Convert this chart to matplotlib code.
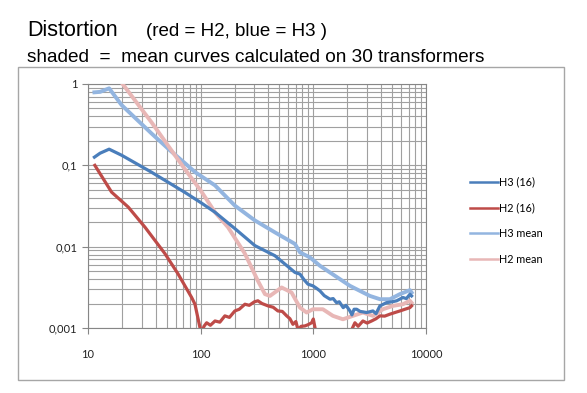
import matplotlib
matplotlib.use("Agg")
import matplotlib.pyplot as plt
from matplotlib.patches import Rectangle
from matplotlib.ticker import LogLocator, NullFormatter

# ---------------- data ---------------- #
h3_mean_f = [11.4, 12.8, 15.4, 19.9, 36.8, 53.4, 72.6, 89, 134, 201, 303, 456, 687,
             761, 933, 1145, 1404, 1722, 2113, 2591, 3178, 3900, 4786, 5869, 7197, 7450]
h3_mean_v = [0.79, 0.80, 0.885, 0.55, 0.245, 0.153, 0.106, 0.0827, 0.0567, 0.032, 0.021,
             0.0150, 0.0108, 0.0085, 0.00738, 0.00582, 0.00482, 0.00399, 0.0033, 0.00286,
             0.00248, 0.00226, 0.00226, 0.00261, 0.00292, 0.00273]

h2_mean_f = [20.3, 36.8, 53.4, 72.6, 100, 134, 175, 247, 322, 372, 412, 523, 641, 761,
             872, 991, 1216, 1493, 1831, 2245, 2754, 3380, 4145, 5082, 6237, 7197, 7450]
h2_mean_v = [1.0, 0.335, 0.162, 0.0893, 0.0491, 0.0265, 0.0173, 0.0082, 0.0038, 0.00261,
             0.00248, 0.00315, 0.00273, 0.00178, 0.00155, 0.0017, 0.0017, 0.00141, 0.00128,
             0.00141, 0.00155, 0.00141, 0.0017, 0.00187, 0.00196, 0.00216, 0.00204]

h3_16_f = [11.4, 12.8, 15.4, 19.9, 36.8, 53.4, 72.6, 100, 134, 201, 303, 456, 687, 761,
           830, 896, 991, 1060, 1145, 1250, 1404, 1500, 1605, 1700, 1842, 1950, 2113,
           2200, 2300, 2425, 2600, 2970, 3380, 3600, 3900, 4460, 5000, 5490, 6240, 6700,
           7197, 7450]
h3_16_v = [0.126, 0.141, 0.158, 0.133, 0.082, 0.060, 0.0464, 0.0349, 0.0265, 0.0167,
           0.0103, 0.00774, 0.00482, 0.0046, 0.0039, 0.00346, 0.0033, 0.0031, 0.00286,
           0.0025, 0.00226, 0.0023, 0.00205, 0.0021, 0.00178, 0.0019, 0.00162, 0.00145,
           0.0017, 0.0017, 0.0016, 0.00155, 0.00162, 0.0015, 0.00187, 0.00205, 0.0021,
           0.00216, 0.00237, 0.0023, 0.0026, 0.00248]

h2_16_f = [11.5, 16.2, 22.8, 32.1, 48.2, 62.9, 83.2, 89, 98.6, 102, 107, 113, 122, 134,
           148, 164, 180, 201, 220, 247, 270, 300, 322, 350, 396, 440, 485, 530, 580,
           620, 659, 700, 730, 780, 841, 900, 966, 1000, 1054, 1404, 1905, 2339, 2500,
           2754, 3000, 3290, 3600, 3900, 4300, 4786, 5300, 5869, 6500, 7197, 7450]
h2_16_v = [0.1, 0.0468, 0.0306, 0.0173, 0.0082, 0.00464, 0.00237, 0.00196, 0.00101,
           0.00087, 0.00105, 0.00116, 0.00108, 0.00122, 0.00118, 0.00141, 0.00135,
           0.00162, 0.0017, 0.00196, 0.0019, 0.0021, 0.00216, 0.0020, 0.00187, 0.0018,
           0.00162, 0.0016, 0.00141, 0.0013, 0.00111, 0.0012, 0.00096, 0.00105, 0.00106,
           0.0011, 0.00116, 0.00129, 0.00088, 0.00063, 0.00063, 0.00116, 0.00105, 0.00122,
           0.00115, 0.00122, 0.0013, 0.00141, 0.0014, 0.00148, 0.00155, 0.00162, 0.0017,
           0.00178, 0.00187]

y_ticks = [0.001, 0.01, 0.1, 1]
y_labels = ["0,001", "0,01", "0,1", "1"]
x_ticks = [10, 100, 1000, 10000]
x_labels = ["10", "100", "1000", "10000"]

# ---------------- figure ---------------- #
fig = plt.figure(figsize=(5.87, 3.93), dpi=100)
ax = fig.add_axes([88 / 587, 1 - 328 / 393, (426 - 88) / 587, (328 - 84) / 393])

# chart border
fig.patches.append(Rectangle((18 / 587, 1 - 380 / 393), 546 / 587, 313 / 393,
                             transform=fig.transFigure, fill=False,
                             edgecolor="#a6a6a6", lw=1.0))

ax.plot(h3_16_f, h3_16_v, color="#4A7EBB", lw=2.3, label="H3 (16)", zorder=4)
ax.plot(h2_16_f, h2_16_v, color="#BE4B48", lw=2.3, label="H2 (16)", zorder=4)
ax.plot(h3_mean_f, h3_mean_v, color="#93B5E0", lw=2.8, label="H3 mean", zorder=3)
ax.plot(h2_mean_f, h2_mean_v, color="#E8B7B6", lw=2.8, label="H2 mean", zorder=3)

ax.set_xscale("log")
ax.set_yscale("log")
ax.set_xlim(10, 10000)
ax.set_ylim(0.001, 1)

ax.xaxis.set_minor_locator(LogLocator(base=10, subs=range(2, 10)))
ax.yaxis.set_minor_locator(LogLocator(base=10, subs=range(2, 10)))
ax.xaxis.set_minor_formatter(NullFormatter())
ax.yaxis.set_minor_formatter(NullFormatter())
ax.set_xticks(x_ticks)
ax.set_xticklabels(x_labels)
ax.set_yticks(y_ticks)
ax.set_yticklabels(y_labels)

ax.grid(True, which="both", color="#a0a0a0", lw=0.8)
ax.set_axisbelow(True)
ax.tick_params(which="minor", length=0)
ax.tick_params(which="major", length=4, color="#868686", labelsize=8,
               labelcolor="#222222")
ax.tick_params(axis="x", pad=11)
for lab in ax.get_xticklabels() + ax.get_yticklabels():
    lab.set_fontfamily("Lato")
for side in ["left", "bottom", "top", "right"]:
    ax.spines[side].set_color("#868686")
    ax.spines[side].set_linewidth(0.8)

leg = ax.legend(loc="center left", bbox_to_anchor=(1.1, 0.44), frameon=False,
                handlelength=2.6, handletextpad=0.15, labelspacing=1.35,
                prop={"family": "Lato", "size": 7.8})
for line in leg.get_lines():
    line.set_linewidth(1.8)

fig.text(27 / 587, 1 - 36 / 393, "Distortion", fontsize=15.5, family="Liberation Sans",
         va="baseline")
fig.text(146 / 587, 1 - 36 / 393, "(red = H2, blue = H3 )", fontsize=13.5,
         family="Liberation Sans", va="baseline")
fig.text(27 / 587, 1 - 62 / 393, "shaded  =  mean curves calculated on 30 transformers",
         fontsize=13.7, family="Liberation Sans", va="baseline")

fig.savefig("out.png", dpi=100)
